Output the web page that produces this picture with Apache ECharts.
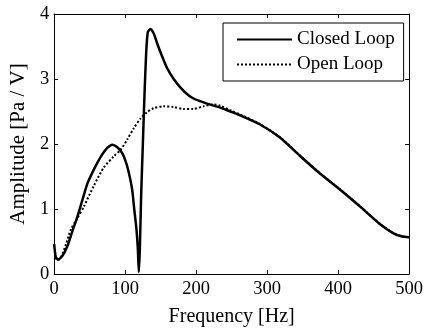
<!DOCTYPE html>
<html>
<head>
<meta charset="utf-8">
<script src="https://cdn.jsdelivr.net/npm/echarts@6/dist/echarts.min.js"></script>
<style>html,body{margin:0;padding:0;background:#fff}#c{width:426px;height:332px}</style>
</head>
<body>
<div id="c"></div>
<script>
var xTicks = [0, 100, 200, 300, 400, 500];
var yTicks = [0, 1, 2, 3, 4];

var closedFreq = [0, 2.3, 5.6, 11.7, 18.7, 25.7, 32.7, 39.8, 46.8, 53.8, 60.8, 67.8, 74.8, 81.9, 88.9, 95.9, 102, 106.6, 110, 113, 116, 117.9, 119.3, 120.7, 122.5, 124.9, 127.2, 129.6, 131.9, 135.6, 140.3, 145, 152, 159, 168.4, 177.7, 187, 196.4, 210.5, 224.5, 234, 248, 262, 290, 318, 346, 374, 402.5, 430.6, 458.7, 477.4, 489, 500];
var closedAmp = [0.46, 0.26, 0.22, 0.28, 0.43, 0.66, 0.88, 1.14, 1.39, 1.56, 1.71, 1.84, 1.94, 1.99, 1.95, 1.86, 1.69, 1.49, 1.29, 0.98, 0.68, 0.38, 0.03, 0.38, 1.19, 1.99, 2.74, 3.40, 3.72, 3.77, 3.70, 3.55, 3.35, 3.17, 3.00, 2.87, 2.77, 2.70, 2.64, 2.59, 2.56, 2.50, 2.44, 2.30, 2.10, 1.82, 1.55, 1.30, 1.04, 0.77, 0.63, 0.58, 0.565];

var openFreq = [0, 5, 10, 16.4, 23.4, 32.7, 42, 56, 70, 84, 93.5, 103, 112, 121.6, 131, 140, 154, 168, 182, 196, 210.5, 224.5, 234, 248, 262, 290, 318, 346, 374, 402.5, 430.6, 458.7, 477.4, 489, 500];
var openAmp = [0.25, 0.22, 0.27, 0.45, 0.68, 0.86, 1.04, 1.36, 1.64, 1.81, 1.91, 2.07, 2.24, 2.39, 2.49, 2.55, 2.58, 2.57, 2.54, 2.54, 2.58, 2.61, 2.59, 2.52, 2.455, 2.305, 2.105, 1.825, 1.553, 1.302, 1.042, 0.772, 0.632, 0.582, 0.567];

function zip(a, b) { return a.map(function (v, i) { return [v, b[i]]; }); }

var FONT = 'Liberation Serif';
var chart = echarts.init(document.getElementById('c'), null, { renderer: 'canvas' });
var axisLine = { show: true, onZero: false, lineStyle: { color: '#000', width: 1 } };
var tick = { show: true, inside: true, length: 4, lineStyle: { color: '#000' } };
chart.setOption({
  animation: false,
  backgroundColor: '#fff',
  grid: { left: 53, right: 16.5, top: 14, bottom: 52.7, containLabel: false },
  legend: {
    orient: 'vertical', left: 223, top: 23,
    borderColor: '#000', borderWidth: 1, backgroundColor: '#fff',
    padding: [6, 9, 6, 13], itemGap: 4, itemWidth: 55, itemHeight: 12,
    itemStyle: { opacity: 0 },
    textStyle: { fontFamily: FONT, fontSize: 19, color: '#000', lineHeight: 21 },
    data: ['Closed Loop', 'Open Loop']
  },
  xAxis: [{
    type: 'value', min: 0, max: 500, interval: 100, position: 'bottom',
    name: 'Frequency [Hz]', nameLocation: 'middle', nameGap: 33,
    nameTextStyle: { fontFamily: FONT, fontSize: 20, color: '#000' },
    axisLine: axisLine, splitLine: { show: false }, axisTick: tick,
    axisLabel: { fontFamily: FONT, fontSize: 18.5, color: '#000', margin: 6 }
  }, {
    type: 'value', min: 0, max: 500, interval: 100, position: 'top',
    axisLine: axisLine, splitLine: { show: false }, axisTick: tick,
    axisLabel: { show: false }
  }],
  yAxis: [{
    type: 'value', min: 0, max: 4, interval: 1, position: 'left',
    name: 'Amplitude [Pa / V]', nameLocation: 'middle', nameGap: 20,
    nameTextStyle: { fontFamily: FONT, fontSize: 21, color: '#000' },
    axisLine: axisLine, splitLine: { show: false }, axisTick: tick,
    axisLabel: { fontFamily: FONT, fontSize: 18.5, color: '#000', margin: 5 }
  }, {
    type: 'value', min: 0, max: 4, interval: 1, position: 'right',
    axisLine: axisLine, splitLine: { show: false }, axisTick: tick,
    axisLabel: { show: false }
  }],
  series: [{
    name: 'Closed Loop', type: 'line', showSymbol: false, symbol: 'none', smooth: 0.2,
    data: zip(closedFreq, closedAmp),
    lineStyle: { color: '#000', width: 2.5, type: 'solid' }, itemStyle: { color: '#000' }
  }, {
    name: 'Open Loop', type: 'line', showSymbol: false, symbol: 'none', smooth: 0.25,
    data: zip(openFreq, openAmp),
    lineStyle: { color: '#000', width: 2, type: [2, 2] }, itemStyle: { color: '#000' }
  }]
});
</script>
</body>
</html>
